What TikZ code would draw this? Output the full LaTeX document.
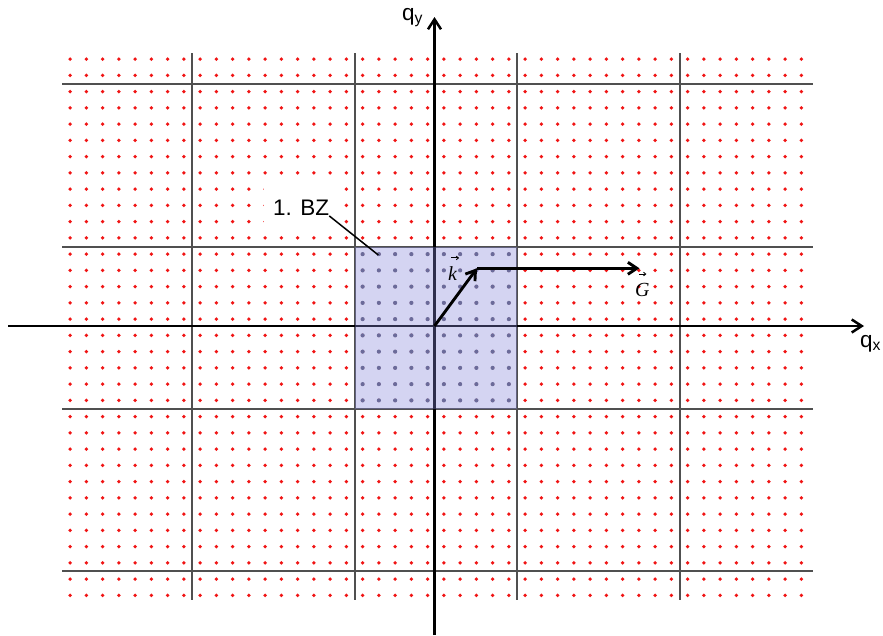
\documentclass[tikz,border=0pt]{standalone}
\usepackage{fontspec}
\setmainfont{Liberation Sans}
\newfontfamily\vecfont{Liberation Serif}
\usetikzlibrary{arrows.meta}
\definecolor{dotred}{RGB}{240,20,20}
\definecolor{gridgray}{RGB}{80,80,80}
\definecolor{bzfill}{RGB}{132,132,218}
\definecolor{bzdot}{RGB}{95,95,120}
\begin{document}
\begin{tikzpicture}[x=1pt,y=-1pt,
  gridline/.style={draw=gridgray,line width=2pt},
  axis/.style={line width=2.5pt,-{Straight Barb[length=10pt,width=13pt]}},
  vecarrow/.style={line width=2.9pt,-{Straight Barb[length=9pt,width=12pt]}},
  vecacc/.style={line width=0.9pt,-{Straight Barb[length=2.2pt,width=3.6pt]}},
  lab/.style={inner sep=0pt,font=\fontsize{22.5}{26}\selectfont},
  mlab/.style={inner sep=0pt,font=\vecfont\itshape\fontsize{20}{24}\selectfont}]
\useasboundingbox (0,0) rectangle (883,635);
% reciprocal lattice points
\foreach \i in {0,...,45}{\foreach \j in {0,...,33}{
  \fill[dotred] ({70.125+16.25*\i},{59.125+16.25*\j}) circle (1.9pt);}}
\foreach \i in {18,...,27}{\foreach \j in {12,...,21}{
  \fill[bzdot] ({70.125+16.25*\i},{59.125+16.25*\j}) circle (2.1pt);}}
% zone boundaries
\foreach \x in {192,354.5,517,679.5} \draw[gridline] (\x,53) -- (\x,600);
\foreach \y in {83.5,246.5,408.5,571} \draw[gridline] (62,\y) -- (813,\y);
% axes
\coordinate (xl) at (8,326);
\coordinate (xr) at (864,326);
\coordinate (yb) at (434.5,635);
\coordinate (yt) at (434.5,17);
\draw[axis] (xl) -- (xr);
\draw[axis] (yb) -- (yt);
% first Brillouin zone
\fill[bzfill,fill opacity=0.35] (354.5,246.5) rectangle (517,408.5);
% label 1. BZ
\fill[white] (264,181) rectangle (339,231);
\node[lab,anchor=base west] (bz) at (273,215.7) {1. BZ};
\coordinate (bzp) at (378.3,255);
\draw[line width=1.5pt] (bz.south east) -- (bzp);
% vectors
\coordinate (O) at (434.5,326);
\coordinate (K) at (477,268.3);
\coordinate (Gt) at (639.5,268.3);
\draw[vecarrow] (O) -- (K);
\draw[vecarrow] (K) -- (Gt);
\node[mlab,anchor=base west] (kl) at (448,280) {k};
\node[mlab,anchor=base west] (gl) at (635,296) {G};
\draw[vecacc] ([xshift=-1.5pt,yshift=8pt]kl.north) -- ([xshift=6.5pt,yshift=8pt]kl.north);
\draw[vecacc] ([xshift=-3pt,yshift=8.5pt]gl.north) -- ([xshift=4pt,yshift=8.5pt]gl.north);
% axis labels
\node[lab,anchor=base west] (qy) at (402,20) {q\textsubscript{y}};
\node[lab,anchor=base west] (qx) at (860,347) {q\textsubscript{x}};
\end{tikzpicture}
\end{document}
